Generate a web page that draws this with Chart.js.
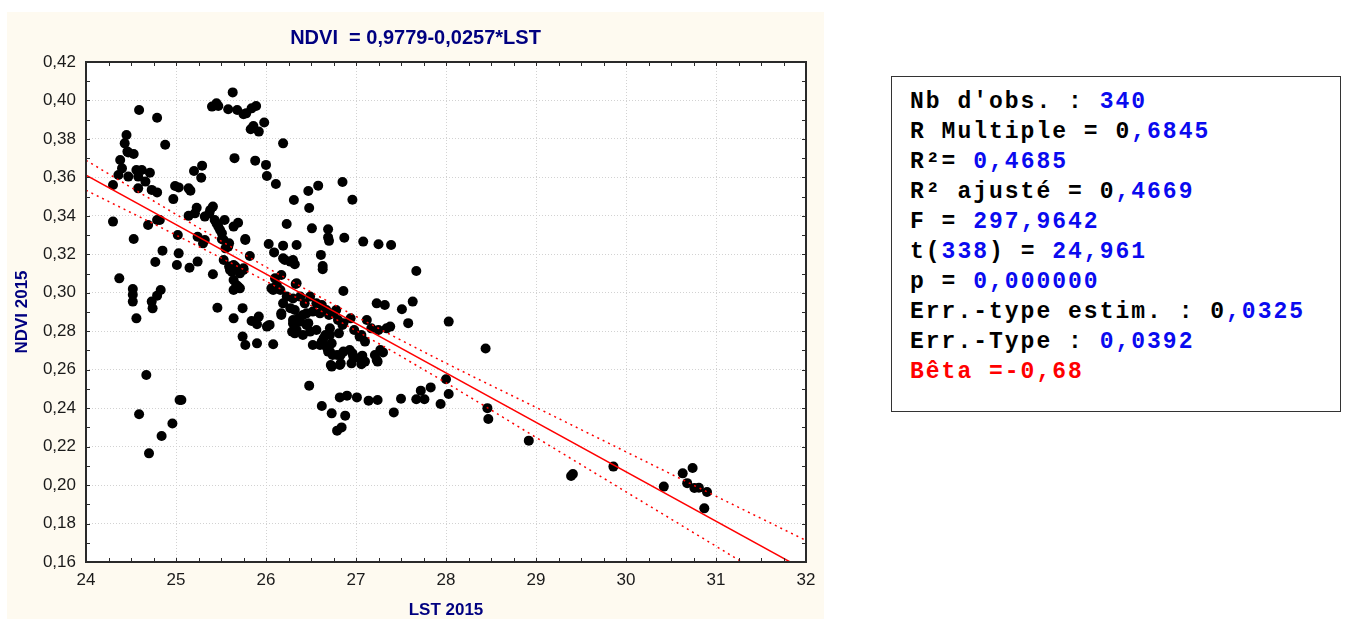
<!DOCTYPE html>
<html>
<head>
<meta charset="utf-8">
<script src="https://cdn.jsdelivr.net/npm/chart.js@4.4.1/dist/chart.umd.min.js"></script>
<style>
html, body { margin: 0; padding: 0; background: #fff; width: 1352px; height: 619px; overflow: hidden; }
#wrap { position: absolute; left: 0; top: 0; width: 1352px; height: 619px; }
#stats {
  position: absolute; left: 891px; top: 76px; width: 450px; height: 336px;
  box-sizing: border-box; border: 1px solid #333; background: #fff;
  padding: 10px 0 0 18px;
  font-family: "Liberation Mono", "Courier New", monospace; font-weight: bold;
  font-size: 23px; letter-spacing: 2px; line-height: 30px; white-space: pre; color: #000;
}
.b { color: #0a0aef; }
.r { color: #f00; }
</style>
</head>
<body>
<div id="wrap"><canvas id="grafik"></canvas></div>
<div id="stats">Nb d'obs. : <span class="b">340</span>
R Multiple = 0<span class="b">,6845</span>
R²= <span class="b">0,4685</span>
R² ajusté = 0<span class="b">,4669</span>
F = <span class="b">297,9642</span>
t(<span class="b">338</span>) = <span class="b">24,961</span>
p = <span class="b">0,000000</span>
Err.-type estim. : 0<span class="b">,0325</span>
Err.-Type : <span class="b">0,0392</span>
<span class="r">Bêta =-0,68</span></div>
<script>
// data: LST 2015 (x) and NDVI 2015 (y)
const lstValues = [
  24.30, 24.30, 24.53, 24.37, 24.59, 24.79, 24.88, 24.45, 24.43, 24.46,
  24.53, 24.47, 24.38, 24.40, 24.36, 24.47, 24.56, 24.62, 24.71, 24.66,
  24.58, 24.73, 24.79, 24.69, 24.79, 24.82, 24.77, 24.85, 24.79, 24.83,
  24.52, 24.52, 24.52, 24.73, 24.74, 24.56, 24.67, 24.59, 24.70, 24.84,
  24.96, 25.04, 25.06, 24.58,
  24.97, 24.99, 25.03, 25.14, 25.16, 25.20, 25.29, 25.28, 25.14, 25.23,
  25.21, 25.32, 25.38, 25.41, 25.43, 25.47, 25.51, 25.53, 25.54, 25.64,
  25.69, 25.77, 25.77, 25.82, 25.59, 25.53, 25.24, 25.30, 25.32, 25.02,
  25.03, 25.01, 25.15, 25.24, 25.41, 25.55, 25.58, 25.51, 25.59, 25.62,
  25.66, 25.64, 25.69, 25.64, 25.71, 25.75, 25.64, 25.75, 25.60, 25.67,
  25.71, 25.46, 25.64, 25.74, 25.84, 25.92, 25.90, 26.01, 26.04, 25.74,
  25.77, 25.90, 26.08, 25.45, 25.49, 25.37,
  25.63, 25.40, 25.45, 25.47, 25.58, 25.68, 25.75, 25.78, 25.84, 25.89,
  25.86, 25.83, 25.92, 25.98, 25.65, 25.88, 26.00, 26.01, 26.11, 26.19,
  26.31, 26.47, 26.58, 26.48, 26.85, 26.96, 26.23, 26.51, 26.69, 26.69,
  26.70, 26.87, 27.08, 27.25, 27.39, 27.67, 26.03, 26.09, 26.19, 26.34,
  26.61, 26.63, 26.21, 26.30, 26.32, 26.33, 26.86, 26.08, 26.19, 26.27,
  26.63,
  26.17, 26.10, 26.06, 26.34, 26.16, 26.23, 26.19, 26.17, 26.32, 26.30,
  26.29, 26.34, 26.41, 26.38, 26.43, 26.49, 26.56, 26.62, 26.45, 26.52,
  26.60, 26.67, 26.75, 26.38, 26.47, 26.56, 26.66, 26.71, 26.80, 26.86,
  26.62, 26.73, 26.69, 26.79, 26.86, 26.93, 26.97, 26.73, 26.82, 26.95,
  27.04, 27.10, 27.21, 27.27, 27.23, 27.23, 27.32, 27.51, 27.58, 27.12,
  27.17, 27.25, 27.34, 27.38, 27.06, 27.10, 26.94, 26.78, 26.70, 26.98,
  27.04, 26.85, 26.81, 26.71, 27.30, 27.07, 26.96, 26.83, 26.74, 26.72,
  26.83, 27.06, 27.24, 26.30, 26.27, 26.30, 26.36, 26.41, 26.45, 26.49,
  26.32, 26.64, 26.60, 26.52, 26.67, 26.71, 26.12, 26.17,
  26.48, 26.62, 26.73, 26.79, 26.84, 26.82, 26.90, 26.88, 27.01, 27.14,
  27.24, 27.42, 27.50, 27.67, 27.76, 27.72, 27.83, 27.94, 28.00, 28.03,
  28.03, 28.44, 28.46, 28.47, 28.92, 29.39, 29.41, 29.86, 30.42, 30.63,
  30.74, 30.68, 30.76, 30.81, 30.90, 30.87, 27.63
];
const ndviValues = [
  0.356, 0.337, 0.328, 0.3075, 0.395, 0.391, 0.377, 0.382, 0.3777, 0.3734,
  0.3722, 0.373, 0.369, 0.3647, 0.3612, 0.3604, 0.3638, 0.3638, 0.3624, 0.3578,
  0.3543, 0.3535, 0.3522, 0.3352, 0.3378, 0.3378, 0.316, 0.3219, 0.2985, 0.3014,
  0.302, 0.299, 0.2954, 0.2954, 0.2919, 0.2867, 0.2572, 0.2368, 0.2165, 0.2255,
  0.232, 0.2442, 0.2442, 0.3604,
  0.3487, 0.3555, 0.3548, 0.3543, 0.3531, 0.3633, 0.3661, 0.3598, 0.3400, 0.3442,
  0.3413, 0.3396, 0.3430, 0.3448, 0.3378, 0.3344, 0.3309, 0.3274, 0.3378, 0.3344,
  0.3364, 0.3280, 0.3274, 0.3191, 0.3257, 0.3170, 0.3291, 0.3257, 0.3274, 0.3300,
  0.3205, 0.3144, 0.3130, 0.3162, 0.3096, 0.3231, 0.3240, 0.3278, 0.3136, 0.3110,
  0.3136, 0.3066, 0.3032, 0.3014, 0.3101, 0.3118, 0.3144, 0.3127, 0.3118, 0.3040,
  0.3023, 0.2922, 0.2867, 0.2920, 0.2853, 0.2876, 0.2836, 0.2824, 0.2833, 0.2772,
  0.2728, 0.2737, 0.2732, 0.3361, 0.3326, 0.3413,
  0.4042, 0.3968, 0.3985, 0.3971, 0.3954, 0.3950, 0.3928, 0.3933, 0.3959, 0.3971,
  0.3867, 0.3850, 0.3838, 0.3885, 0.3700, 0.3687, 0.3665, 0.3607, 0.3566, 0.3777,
  0.3482, 0.3529, 0.3557, 0.3441, 0.3576, 0.3484, 0.3358, 0.3335, 0.3330, 0.3288,
  0.3270, 0.3286, 0.3266, 0.3252, 0.3248, 0.3113, 0.3254, 0.3210, 0.3245, 0.3248,
  0.3197, 0.3122, 0.3170, 0.3170, 0.3148, 0.3046, 0.3009, 0.3014, 0.3179, 0.3162,
  0.3139,
  0.3092, 0.3075, 0.3023, 0.3049, 0.3014, 0.2980, 0.2945, 0.2893, 0.2910, 0.2858,
  0.2798, 0.2806, 0.2780, 0.2980, 0.2945, 0.2980, 0.2945, 0.2936, 0.2893, 0.2902,
  0.2893, 0.2910, 0.2893, 0.2850, 0.2842, 0.2806, 0.2780, 0.2815, 0.2858, 0.2842,
  0.2746, 0.2737, 0.2694, 0.2676, 0.2694, 0.2702, 0.2668, 0.2616, 0.2624, 0.2633,
  0.2659, 0.2642, 0.2676, 0.2702, 0.2650, 0.2945, 0.2936, 0.2914, 0.2842, 0.2858,
  0.2815, 0.2806, 0.2815, 0.2824, 0.2780, 0.2746, 0.2867, 0.2910, 0.2884, 0.2806,
  0.2772, 0.2833, 0.2789, 0.2780, 0.2690, 0.2673, 0.2685, 0.2676, 0.2676, 0.2624,
  0.2633, 0.2628, 0.2642, 0.2970, 0.2920, 0.2840, 0.2867, 0.2884, 0.2833, 0.2798,
  0.2789, 0.2763, 0.2728, 0.2728, 0.2720, 0.2694, 0.3040, 0.2884,
  0.2517, 0.2411, 0.2373, 0.2283, 0.2300, 0.2456, 0.2465, 0.2361, 0.2456, 0.2439,
  0.2442, 0.2378, 0.2449, 0.2446, 0.2446, 0.2491, 0.2508, 0.2422, 0.2550, 0.2474,
  0.2850, 0.2710, 0.2400, 0.2344, 0.2231, 0.2047, 0.2058, 0.2096, 0.1992, 0.2061,
  0.2089, 0.2010, 0.1985, 0.1986, 0.1964, 0.1879, 0.2954
];

// droite de regression et bandes de confiance
const fitX = [24, 32];
const fitY = [0.3611, 0.1555];
const bandX = [24, 25, 26, 27, 28, 29, 30, 31, 32];
const bandUpper = [0.3689, 0.3408, 0.3134, 0.2877, 0.2634, 0.2404, 0.2173, 0.1942, 0.1712];
const bandLower = [0.3533, 0.3300, 0.3060, 0.2803, 0.2532, 0.2248, 0.1965, 0.1682, 0.1398];

const xTicks = [24, 25, 26, 27, 28, 29, 30, 31, 32];
const yTicks = [0.16, 0.18, 0.20, 0.22, 0.24, 0.26, 0.28, 0.30, 0.32, 0.34, 0.36, 0.38, 0.40, 0.42];

const titre = "NDVI  = 0,9779-0,0257*LST";
const FONT = '"Liberation Sans", Arial, sans-serif';

const pts = (xs, ys) => xs.map((x, i) => ({ x: x, y: ys[i] }));

// fond creme + zone blanche, puis cadre, graduations et titre
const decor = {
  id: 'decor',
  beforeDraw(chart) {
    const { ctx, chartArea: a } = chart;
    ctx.save();
    ctx.fillStyle = '#fefaf0';
    ctx.fillRect(7, 12, 817, 607);
    ctx.fillStyle = '#fff';
    ctx.fillRect(a.left, a.top, a.width, a.height);
    ctx.restore();
  },
  afterDraw(chart) {
    const { ctx, chartArea: a, scales: { x, y } } = chart;
    ctx.save();
    ctx.strokeStyle = '#2a2a2a';
    ctx.lineWidth = 1;
    ctx.beginPath();
    for (let v = 24; v <= 32.001; v += 0.25) {
      const px = Math.round(x.getPixelForValue(v)) + 0.5;
      ctx.moveTo(px, a.top); ctx.lineTo(px, a.top + 4);
      ctx.moveTo(px, a.bottom); ctx.lineTo(px, a.bottom - 4);
    }
    for (let v = 0.16; v <= 0.4201; v += 0.01) {
      const py = Math.round(y.getPixelForValue(v)) + 0.5;
      ctx.moveTo(a.left, py); ctx.lineTo(a.left + 4, py);
      ctx.moveTo(a.right, py); ctx.lineTo(a.right - 4, py);
    }
    ctx.stroke();
    ctx.lineWidth = 2;
    ctx.strokeRect(a.left, a.top, a.width, a.height);

    ctx.fillStyle = '#000080';
    ctx.font = 'bold 20px ' + FONT;
    ctx.textAlign = 'center';
    ctx.textBaseline = 'middle';
    ctx.fillText(titre, 415.5, 38);
    ctx.restore();
  }
};

new Chart(document.getElementById('grafik'), {
  type: 'scatter',
  data: {
    datasets: [
      {
        label: 'fit',
        data: pts(fitX, fitY),
        showLine: true,
        borderColor: '#f00',
        borderWidth: 1.5,
        pointRadius: 0,
        order: 0
      },
      {
        label: 'upper',
        data: pts(bandX, bandUpper),
        showLine: true,
        borderColor: '#f00',
        borderWidth: 1.5,
        borderDash: [2, 4],
        cubicInterpolationMode: 'monotone',
        pointRadius: 0,
        order: 0
      },
      {
        label: 'lower',
        data: pts(bandX, bandLower),
        showLine: true,
        borderColor: '#f00',
        borderWidth: 1.5,
        borderDash: [2, 4],
        cubicInterpolationMode: 'monotone',
        pointRadius: 0,
        order: 0
      },
      {
        label: 'obs',
        data: pts(lstValues, ndviValues),
        backgroundColor: '#000',
        borderWidth: 0,
        pointRadius: 5,
        order: 1
      }
    ]
  },
  options: {
    responsive: true,
    maintainAspectRatio: false,
    animation: false,
    layout: { padding: { left: 0, top: 62, right: 546, bottom: 0 } },
    plugins: {
      legend: { display: false },
      tooltip: { enabled: false }
    },
    scales: {
      x: {
        type: 'linear',
        min: 24,
        max: 32,
        afterBuildTicks: (s) => { s.ticks = xTicks.map(v => ({ value: v })); },
        afterFit: (s) => { s.height = 57; },
        grid: { color: '#d2d2d2', drawTicks: false },
        border: { display: false, dash: [1, 2] },
        ticks: {
          font: { family: FONT, size: 17 },
          color: '#1a1a1a',
          padding: 8,
          maxRotation: 0,
          callback: (v) => String(v)
        },
        title: {
          display: true,
          text: 'LST 2015',
          color: '#000080',
          font: { family: FONT, size: 17, weight: 'bold', lineHeight: 1 },
          padding: { top: 0, bottom: 0.5 }
        }
      },
      y: {
        type: 'linear',
        min: 0.16,
        max: 0.42,
        afterBuildTicks: (s) => { s.ticks = yTicks.map(v => ({ value: v })); },
        afterFit: (s) => { s.width = 86; },
        grid: { color: '#d2d2d2', drawTicks: false },
        border: { display: false, dash: [1, 2] },
        ticks: {
          font: { family: FONT, size: 17 },
          color: '#1a1a1a',
          padding: 10,
          callback: (v) => v.toFixed(2).replace('.', ',')
        },
        title: {
          display: true,
          text: 'NDVI 2015',
          color: '#000080',
          font: { family: FONT, size: 17, weight: 'bold', lineHeight: 1 },
          padding: { top: 13.5, bottom: 0 }
        }
      }
    }
  },
  plugins: [decor]
});
</script>
</body>
</html>
